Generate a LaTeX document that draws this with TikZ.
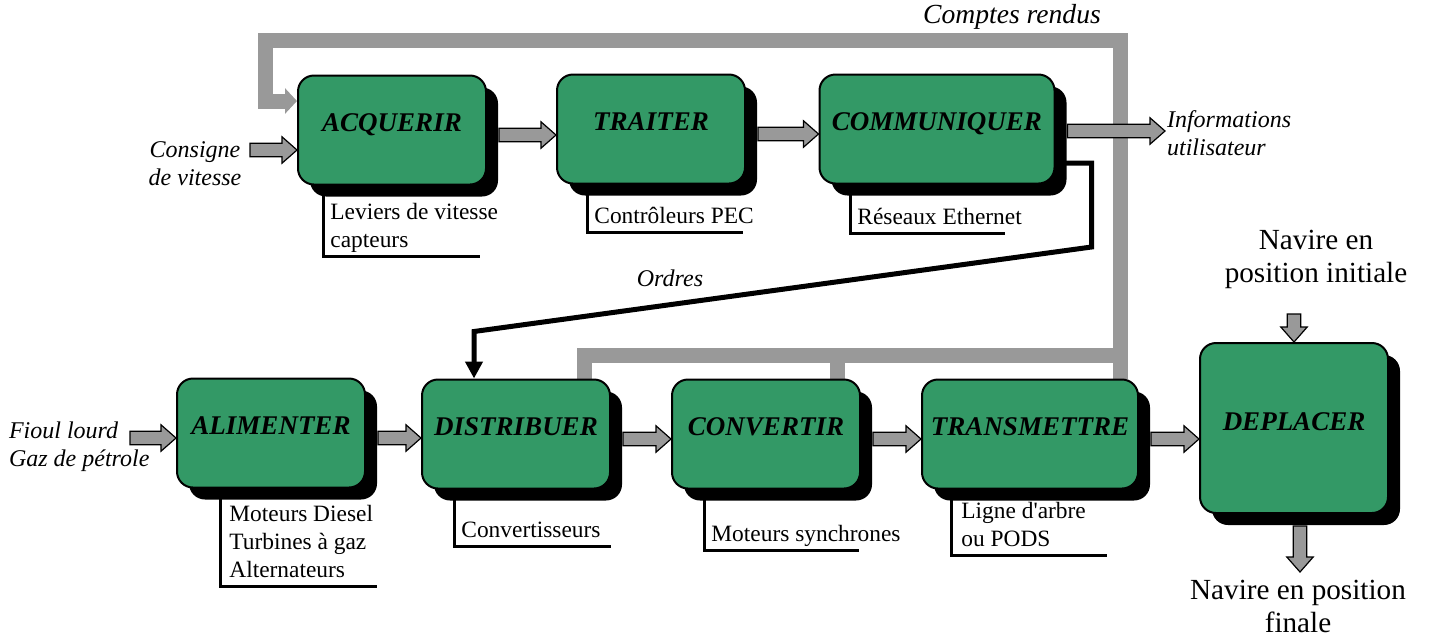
\documentclass[tikz,border=0pt]{standalone}
\usepackage{fontspec}
\setmainfont{Liberation Serif}
\usetikzlibrary{arrows.meta,shadows,calc,backgrounds}

\definecolor{vertbloc}{RGB}{51,153,102}
\definecolor{grisfleche}{RGB}{153,153,153}

% grosses fleches grises
\newcommand{\flechedroite}[2]{%
  \draw[grosse] let \p1=#1, \p2=#2 in
    (\x1,\y1+3.4pt) -- (\x2-7.5pt,\y1+3.4pt) -- (\x2-7.5pt,\y1+6.6pt) -- (\x2,\y1)
    -- (\x2-7.5pt,\y1-6.6pt) -- (\x2-7.5pt,\y1-3.4pt) -- (\x1,\y1-3.4pt) -- cycle;}
\newcommand{\flechebas}[2]{%
  \draw[grosse] let \p1=#1, \p2=#2 in
    (\x1-3.4pt,\y1) -- (\x1-3.4pt,\y2+7.5pt) -- (\x1-6.6pt,\y2+7.5pt) -- (\x1,\y2)
    -- (\x1+6.6pt,\y2+7.5pt) -- (\x1+3.4pt,\y2+7.5pt) -- (\x1+3.4pt,\y1) -- cycle;}

\begin{document}
\begin{tikzpicture}[x=0.5pt,y=-0.5pt,
    boite/.style={draw=black, line width=1pt, fill=vertbloc, rounded corners=8pt,
      minimum width=94pt, minimum height=54.5pt, inner sep=0pt,
      font=\fontsize{13.5}{16}\selectfont\bfseries\itshape, text height=9pt, text depth=8pt,
      drop shadow={shadow xshift=6pt, shadow yshift=-6pt, fill=black, opacity=1}},
    sous/.style={anchor=south west, align=left, font=\fontsize{11.7}{14}\selectfont,
      text depth=3pt, inner xsep=3.5pt, inner ysep=1pt},
    trait/.style={line width=1.5pt},
    retour/.style={draw=grisfleche, line width=7.5pt},
    grosse/.style={draw=black, line width=0.6pt, fill=grisfleche},
    ordre/.style={line width=2.5pt, -{Triangle[length=8.5pt,width=8.5pt]}},
    legende/.style={font=\fontsize{12}{14}\selectfont\itshape, align=left},
    navire/.style={font=\fontsize{14.6}{16.5}\selectfont, align=center}]
\useasboundingbox (0,0) rectangle (1430,639);

% Blocs
\node[boite] (acquerir) at (392,130) {ACQUERIR};
\node[boite] (traiter) at (651,129) {TRAITER};
\node[boite, minimum width=117.5pt] (communiquer) at (937,129) {COMMUNIQUER};
\node[boite] (alimenter) at (271,433) {ALIMENTER};
\node[boite] (distribuer) at (516,434) {DISTRIBUER};
\node[boite] (convertir) at (766,434) {CONVERTIR};
\node[boite, minimum width=108pt] (transmettre) at (1030,434) {TRANSMETTRE};
\node[boite, minimum height=85pt, text depth=7pt] (deplacer) at (1294,428) {DEPLACER};

% Supports techniques
\node[sous] (capteurs) at (323,256) {Leviers de vitesse\\capteurs};
\draw[trait] (capteurs.south west |- acquerir.south) -- (capteurs.south west) -- ++(157,0);
\node[sous] (pec) at (587,232) {Contrôleurs PEC};
\draw[trait] (pec.south west |- traiter.south) -- (pec.south west) -- ++(156,0);
\node[sous] (ethernet) at (850,233) {Réseaux Ethernet};
\draw[trait] (ethernet.south west |- communiquer.south) -- (ethernet.south west) -- ++(155,0);
\node[sous, inner xsep=4.5pt] (moteurs) at (220,586) {Moteurs Diesel\\Turbines à gaz\\Alternateurs};
\draw[trait] (moteurs.south west |- alimenter.south) -- (moteurs.south west) -- ++(157,0);
\node[sous] (convertisseurs) at (454,546) {Convertisseurs};
\draw[trait] (convertisseurs.south west |- distribuer.south) -- (convertisseurs.south west) -- ++(157,0);
\node[sous] (synchrones) at (704,550) {Moteurs synchrones};
\draw[trait] (synchrones.south west |- convertir.south) -- (synchrones.south west) -- ++(155,0);
\node[sous, inner xsep=5pt] (pods) at (951,555) {Ligne d\textquotesingle arbre\\ou PODS};
\draw[trait] (pods.south west |- transmettre.south) -- (pods.south west) -- ++(156,0);

% Textes
\node[legende, align=center] (consigne) at (195,164) {Consigne\\de vitesse};
\node[legende, anchor=west] (infos) at (1160,133) {Informations\\utilisateur};
\node[legende, anchor=west] (fioul) at (2,447) {Fioul lourd\\Gaz de pétrole};
\node[legende, font=\fontsize{13.8}{16}\selectfont\itshape] (comptes) at (1012,17) {Comptes rendus};
\node[legende] (ordres) at (670,278) {Ordres};
\node[navire] (initiale) at (1316,259) {Navire en\\position initiale};
\node[navire] (finale) at (1298,606) {Navire en position\\finale};

% Retours d'information
\coordinate (coinhaut) at (1120,40);
\coordinate (coingauche) at (265,40);
\coordinate (coinbas) at (1120,355);
\begin{pgfonlayer}{background}
\draw[retour, -{Triangle[length=6pt,width=12.5pt]}] (transmettre.north -| coinhaut) -- (coinhaut)
  -- (coingauche) |- ([yshift=14.5pt]acquerir.west);
\draw[retour] ([xshift=-13.5pt]distribuer.north east) |- (coinbas);
\draw[retour] ([xshift=-12pt]convertir.north east) |- (coinbas);
\end{pgfonlayer}

% Ordres
\draw[ordre] ([yshift=-17pt]communiquer.east) -- ++(36,0) -- ++(0,84)
  -- ([xshift=-21pt,yshift=23.5pt]distribuer.north) -- ([xshift=-21pt]distribuer.north);

% Flux
\coordinate (entreeA) at (250,150);
\coordinate (entreeB) at (130,438);
\coordinate (sortieA) at (1165,131);
\flechedroite{(entreeA)}{(acquerir.west)}
\flechedroite{(entreeB)}{(alimenter.west)}
\flechedroite{([xshift=6pt,yshift=-1pt]communiquer.east)}{(sortieA)}
\foreach \a/\b in {acquerir/traiter, traiter/communiquer, alimenter/distribuer,
  distribuer/convertir, convertir/transmettre, transmettre/deplacer}
  {\flechedroite{([xshift=6pt,yshift=-2.5pt]\a.east)}{(\b.west)}}
\flechebas{([yshift=14pt]deplacer.north)}{(deplacer.north)}
\flechebas{([xshift=3pt,yshift=-6pt]deplacer.south)}{([xshift=3pt,yshift=-29pt]deplacer.south)}
\end{tikzpicture}
\end{document}
